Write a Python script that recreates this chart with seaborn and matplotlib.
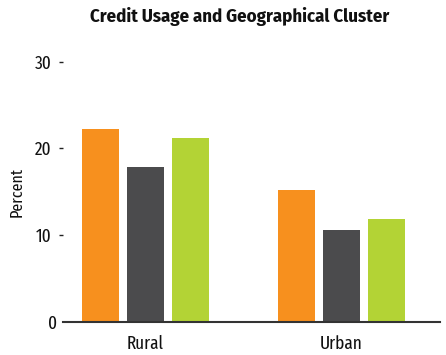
import matplotlib
matplotlib.use("Agg")
import matplotlib.pyplot as plt
import matplotlib.transforms as mtransforms
import seaborn as sns
import pandas as pd

clusters = ["Rural", "Urban"]
series = ["Series 1", "Series 2", "Series 3"]
rural_values = [22.2, 17.8, 21.2]
urban_values = [15.2, 10.6, 11.8]
colors = ["#F7901E", "#4B4B4D", "#B3D335"]
y_ticks = [0, 10, 20, 30]
y_tick_labels = ["0", "10", "20", "30"]

rows = []
for c, vals in zip(clusters, [rural_values, urban_values]):
    for s, v in zip(series, vals):
        rows.append({"Cluster": c, "Series": s, "Percent": v})
df = pd.DataFrame(rows)

sns.set_theme(style="white")
plt.rcParams["font.family"] = ["Fira Sans Extra Condensed", "Fira Sans Condensed", "DejaVu Sans"]

fig = plt.figure(figsize=(4.46, 3.55), dpi=100)
ax = fig.add_axes([63 / 446, 1 - 321.5 / 355, (440 - 63) / 446, (321.5 - 61.7) / 355])
sns.barplot(data=df, x="Cluster", y="Percent", hue="Series", palette=colors,
            width=0.69, gap=0.18, saturation=1, linewidth=0, legend=False, ax=ax)

ax.set_xlim(-0.421, 1.503)
ax.set_ylim(0, 30)
ax.set_yticks(y_ticks)
ax.set_yticklabels(y_tick_labels)
for s in ["top", "right", "left"]:
    ax.spines[s].set_visible(False)
ax.spines["bottom"].set_color("#333333")
ax.spines["bottom"].set_linewidth(1.5)

ax.tick_params(axis="y", left=True, length=3, width=1, color="#222222", pad=5,
               labelsize=13.5, labelcolor="#111111")
ax.tick_params(axis="x", bottom=False, pad=4, labelsize=13.5, labelcolor="#111111")

t0 = ax.yaxis.get_major_ticks()[0]
t0.tick1line.set_visible(False)
t0.label1.set_transform(t0.label1.get_transform() +
                        mtransforms.ScaledTranslation(5 / 100, 0, fig.dpi_scale_trans))

ax.set_xlabel("")
ax.set_ylabel("Percent", fontsize=12.5, color="#111111", labelpad=7)
fig.text(240 / 446, 1 - 16 / 355, "Credit Usage and Geographical Cluster",
         ha="center", va="center", fontsize=13.5, fontweight="bold", color="#111111",
         family=["Fira Sans Condensed", "DejaVu Sans"])

fig.savefig("out.png", dpi=100)
